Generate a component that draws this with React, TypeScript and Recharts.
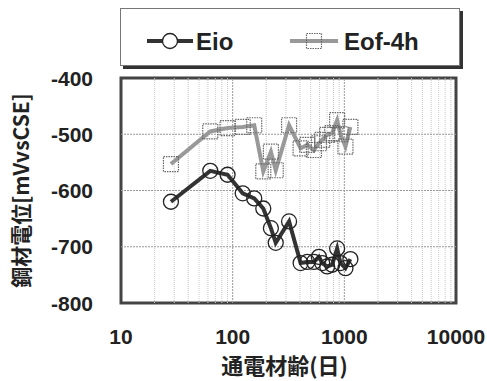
import React from 'react'
import { ComposedChart, Line, XAxis, YAxis, ReferenceLine, ReferenceArea } from 'recharts'

// 通電材齢(日)
const days = [28, 63, 90, 123, 156, 188, 220, 243, 320, 406, 466, 534, 592, 634, 702, 778, 862, 923, 1023, 1133]
// 鋼材電位 Eio [mVvsCSE]
const eio = [-620, -565, -572, -605, -614, -632, -667, -693, -655, -729, -727, -727, -718, -729, -735, -732, -703, -729, -738, -722]
// 鋼材電位 Eof-4h [mVvsCSE]
const eof = [-553, -495, -489, -487, -484, -566, -531, -564, -484, -525, -519, -528, -516, -510, -501, -498, -475, -500, -522, -487]

const xTicks = [10, 100, 1000, 10000]
const yTicks = [-800, -700, -600, -500, -400]
const xMinor = [20, 30, 40, 50, 60, 70, 80, 90, 200, 300, 400, 500, 600, 700, 800, 900, 2000, 3000, 4000, 5000, 6000, 7000, 8000, 9000]

const data = days.map((d, i) => ({ day: d, eio: eio[i], eof: eof[i] }))

const FONT = "'Liberation Sans', 'Noto Sans CJK JP', sans-serif"
const JP = "'Noto Sans CJK JP', sans-serif"

const CircleDot = (props: any) => {
  const { cx, cy } = props
  if (cx == null || cy == null) return null
  return <circle cx={cx} cy={cy} r={7.5} fill="none" stroke="#222" strokeWidth={1.3} />
}

const SquareDot = (props: any) => {
  const { cx, cy } = props
  if (cx == null || cy == null) return null
  return (
    <rect x={cx - 7.5} y={cy - 7.5} width={15} height={15} fill="none"
      stroke="#666" strokeWidth={1.2} strokeDasharray="1.5 1" />
  )
}

const XTick = (props: any) => {
  const { x, payload } = props
  return (
    <text x={x} y={344} textAnchor="middle" fontFamily={FONT} fontWeight="bold" fontSize={21} fill="#222">
      {payload.value}
    </text>
  )
}

const YTick = (props: any) => {
  const { y, payload } = props
  return (
    <text x={93} y={y + 7.5} textAnchor="end" fontFamily={FONT} fontWeight="bold" fontSize={21} fill="#222">
      {payload.value}
    </text>
  )
}

const XTitle = (props: any) => {
  const vb = props.viewBox || { x: 121, width: 335 }
  return (
    <text x={vb.x + vb.width / 2 - 4} y={374} textAnchor="middle" fontFamily={JP} fontWeight="bold" fontSize={22} fill="#222">
      通電材齢(日)
    </text>
  )
}

const LegendBox = () => (
  <svg width={344} height={62} style={{ position: 'absolute', left: 120, top: 8 }}>
    <rect x={3} y={3} width={340} height={58} fill="#333" />
    <rect x={0.5} y={0.5} width={339} height={57} fill="#fff" stroke="#777" strokeWidth={1} />
    <line x1={27} y1={33} x2={73} y2={33} stroke="#333" strokeWidth={4} />
    <circle cx={50} cy={33} r={7.5} fill="#fff" stroke="#222" strokeWidth={1.3} />
    <text x={76} y={42} fontFamily={FONT} fontWeight="bold" fontSize={24} fill="#222">Eio</text>
    <line x1={170} y1={33} x2={218} y2={33} stroke="#999" strokeWidth={4} />
    <rect x={186.5} y={25.5} width={15} height={15} fill="none" stroke="#666" strokeWidth={1.2} strokeDasharray="1.5 1" />
    <text x={224} y={42} fontFamily={FONT} fontWeight="bold" fontSize={24} fill="#222">Eof-4h</text>
  </svg>
)

export default function App() {
  return (
    <div style={{ position: 'absolute', left: 0, top: 0, width: 487, height: 381, background: '#fff' }}>
      <ComposedChart width={487} height={381} data={data}
        margin={{ top: 78, right: 31, left: 0, bottom: 0 }}>
        {xMinor.map((v) => (
          <ReferenceLine key={'m' + v} x={v} stroke="#c8c8c8" strokeWidth={1} strokeDasharray="1 1" />
        ))}
        {[100, 1000].map((v) => (
          <ReferenceLine key={'x' + v} x={v} stroke="#999" strokeWidth={1} strokeDasharray="2 1" />
        ))}
        {[-500, -600, -700].map((v) => (
          <ReferenceLine key={'y' + v} y={v} stroke="#999" strokeWidth={1} strokeDasharray="2 1" />
        ))}
        <XAxis dataKey="day" type="number" scale="log" domain={[10, 10000]} ticks={xTicks}
          allowDataOverflow axisLine={false} tickLine={false} height={78} tick={<XTick />}
          label={<XTitle />} />
        <YAxis type="number" domain={[-800, -400]} ticks={yTicks} allowDataOverflow
          axisLine={false} tickLine={false} width={121} tick={<YTick />}
          label={{ value: '鋼材電位[mVvsCSE]', angle: -90, position: 'insideLeft', offset: 22, fontFamily: JP, fontWeight: 'bold', fontSize: 21, fill: '#222', style: { textAnchor: 'middle' } }} />
        <ReferenceArea x1={10} x2={10000} y1={-800} y2={-400} fill="none" stroke="#444" strokeWidth={3} ifOverflow="visible" />
        <Line dataKey="eof" stroke="#999" strokeWidth={4} dot={<SquareDot />} activeDot={false} isAnimationActive={false} />
        <Line dataKey="eio" stroke="#333" strokeWidth={4} dot={<CircleDot />} activeDot={false} isAnimationActive={false} />
      </ComposedChart>
      <LegendBox />
    </div>
  )
}
